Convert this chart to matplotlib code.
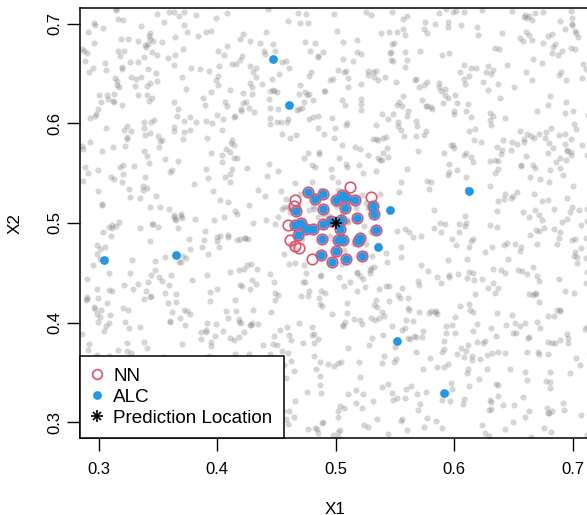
import numpy as np
import matplotlib
matplotlib.use("Agg")
import matplotlib.pyplot as plt
from matplotlib.lines import Line2D

plt.rcParams['font.family'] = ['Liberation Sans', 'DejaVu Sans']

# ---- data ----
pred_loc = (0.500, 0.500)

# nearest-neighbour design points (open red circles)
nn_x = [0.5118, 0.5301, 0.4654, 0.4645, 0.4597, 0.4617, 0.4654, 0.4690, 0.4803,
        0.4766, 0.4828, 0.4893, 0.5006, 0.5056, 0.5090, 0.5160, 0.5076, 0.4893,
        0.5315, 0.5321, 0.4668, 0.4654, 0.4710, 0.4682, 0.4752, 0.4809, 0.4893,
        0.4963, 0.5048, 0.5034, 0.5180, 0.5343, 0.4885, 0.5020, 0.5062, 0.5203,
        0.5189, 0.5000, 0.4879, 0.4972, 0.5090, 0.5225]
nn_y = [0.5362, 0.5261, 0.5228, 0.5174, 0.4983, 0.4832, 0.4765, 0.4749, 0.4638,
        0.5308, 0.5241, 0.5291, 0.5228, 0.5285, 0.5251, 0.5235, 0.5151, 0.5141,
        0.5168, 0.5094, 0.5117, 0.4983, 0.5000, 0.4883, 0.4940, 0.4940, 0.4993,
        0.5017, 0.5034, 0.4940, 0.5050, 0.4933, 0.4839, 0.4832, 0.4826, 0.4849,
        0.4822, 0.4722, 0.4682, 0.4605, 0.4642, 0.4672]

# ALC-selected design points (filled blue)
alc_x = [0.4766, 0.4828, 0.4893, 0.5006, 0.5056, 0.5090, 0.5160, 0.5076, 0.4893,
         0.5315, 0.5321, 0.4668, 0.4654, 0.4710, 0.4682, 0.4752, 0.4809, 0.4893,
         0.4963, 0.5048, 0.5034, 0.5180, 0.5343, 0.4885, 0.5020, 0.5062, 0.5203,
         0.5189, 0.5000, 0.4879, 0.4972, 0.5090, 0.5225,
         0.4472, 0.4602, 0.6125, 0.5520, 0.5917, 0.3042, 0.3650, 0.5458, 0.5359]
alc_y = [0.5308, 0.5241, 0.5291, 0.5228, 0.5285, 0.5251, 0.5235, 0.5151, 0.5141,
         0.5168, 0.5094, 0.5117, 0.4983, 0.5000, 0.4883, 0.4940, 0.4940, 0.4993,
         0.5017, 0.5034, 0.4940, 0.5050, 0.4933, 0.4839, 0.4832, 0.4826, 0.4849,
         0.4822, 0.4722, 0.4682, 0.4605, 0.4642, 0.4672,
         0.6651, 0.6189, 0.5318, 0.3817, 0.3288, 0.4631, 0.4683, 0.5127, 0.4755]

x_ticks = [0.3, 0.4, 0.5, 0.6, 0.7]
y_ticks = [0.3, 0.4, 0.5, 0.6, 0.7]
lims = (0.284, 0.716)

# background design cloud: ~1300 grey points, far too many to read one by one;
# reproduced as a fixed (seeded) uniform texture over the visible window
rng = np.random.default_rng(7)
n_bg = 1300
bg_x = rng.uniform(lims[0], lims[1], n_bg)
bg_y = rng.uniform(lims[0], lims[1], n_bg)

RED = "#DF536B"
BLUE = "#2297E6"

W, H = 587, 515
fig = plt.figure(figsize=(W / 100, H / 100), dpi=100)
ax = fig.add_axes([80 / W, (H - 438) / H, 511.5 / W, 430 / H])

ax.plot(bg_x, bg_y, 'o', color='#808080', alpha=0.33, ms=4.4, mec='none', zorder=1)
ax.plot(nn_x, nn_y, 'o', mfc='none', mec=RED, ms=7.6, mew=1.2, zorder=2)
ax.plot(alc_x, alc_y, 'o', color=BLUE, ms=6.3, mec='none', zorder=3)
ax.plot([pred_loc[0]], [pred_loc[1]], '+', color='black', ms=8, mew=1.2, zorder=4)
ax.plot([pred_loc[0]], [pred_loc[1]], 'x', color='black', ms=5.8, mew=1.2, zorder=4)

ax.set_xlim(*lims)
ax.set_ylim(*lims)
ax.set_xticks(x_ticks)
ax.set_yticks(y_ticks)
ax.set_xticklabels([str(v) for v in x_ticks])
ax.set_yticklabels([str(v) for v in y_ticks])
for s in ax.spines.values():
    s.set_linewidth(1.1)
    s.set_color('black')
ax.tick_params(axis='both', length=9.4, width=1.0, labelsize=12, color='black')
ax.tick_params(axis='x', pad=7.6)
ax.tick_params(axis='y', pad=3.6)
plt.setp(ax.get_yticklabels(), rotation=90, va='center')

fig.text(335.5 / W, 1 - 509 / H, "X1", ha='center', va='center', fontsize=12.3)
fig.text(15 / W, 1 - 224 / H, "X2", ha='center', va='center', fontsize=12.3, rotation=90)

h_nn = Line2D([], [], ls='none', marker='o', mfc='none', mec=RED, ms=7.0, mew=1.2)
h_alc = Line2D([], [], ls='none', marker='o', color=BLUE, mec='none', ms=6.3)
h_p1 = Line2D([], [], ls='none', marker='+', color='black', ms=8, mew=1.2)
h_p2 = Line2D([], [], ls='none', marker='x', color='black', ms=5.8, mew=1.2)
leg = ax.legend([h_nn, h_alc, (h_p1, h_p2)], ["NN", "ALC", "Prediction Location"],
                loc='lower left', bbox_to_anchor=(0, 0), borderaxespad=0,
                fontsize=13.6, frameon=True, fancybox=False, framealpha=1,
                edgecolor='black', handlelength=0.6, handletextpad=0.55,
                labelspacing=0.2, borderpad=0.6)
leg.get_frame().set_linewidth(1.1)
leg.set_zorder(10)

fig.savefig("out.png", dpi=100)
